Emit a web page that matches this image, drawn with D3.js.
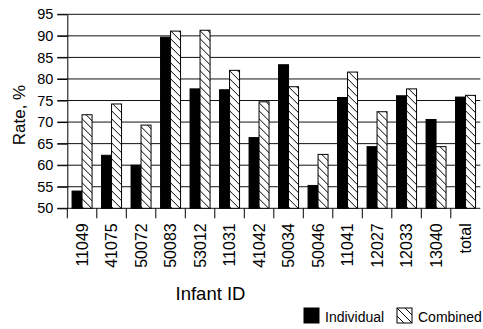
<!DOCTYPE html>
<html>
<head>
<meta charset="utf-8">
<script src="https://cdn.jsdelivr.net/npm/d3@7"></script>
<style>
  html, body { margin: 0; padding: 0; background: #fff; }
  svg { display: block; font-family: "Liberation Sans", Arial, Helvetica, sans-serif; }
</style>
</head>
<body>
<svg id="chart" width="483" height="329"></svg>
<script>
// Recognition rate per infant, individual vs combined model
const categories = ["11049", "41075", "50072", "50083", "53012", "11031", "41042",
                    "50034", "50046", "11041", "12027", "12033", "13040", "total"];
const individual = [54.0, 62.3, 60.0, 89.7, 77.7, 77.5, 66.4, 83.3, 55.3, 75.7, 64.3, 76.1, 70.6, 75.8];
const combined   = [71.7, 74.2, 69.3, 91.1, 91.3, 82.0, 74.7, 78.2, 62.5, 81.6, 72.4, 77.7, 64.3, 76.2];
const seriesNames = ["Individual", "Combined"];
const yTicks = [50, 55, 60, 65, 70, 75, 80, 85, 90, 95];

const svg = d3.select("#chart");
const plotLeft = 67.3, plotRight = 480.3, plotTop = 14.3, plotBottom = 208.3;

// hatch pattern for the combined series
const defs = svg.append("defs");
const pat = defs.append("pattern")
  .attr("id", "hatch")
  .attr("patternUnits", "userSpaceOnUse")
  .attr("width", 8).attr("height", 8);
pat.append("rect").attr("width", 8).attr("height", 8).attr("fill", "#fff");
pat.append("path")
  .attr("d", "M0,0 L8,8 M-2,6 L2,10 M6,-2 L10,2")
  .attr("stroke", "#000").attr("stroke-width", 1);

const x0 = d3.scaleBand().domain(categories).range([plotLeft, plotRight]).padding(0);
const x1 = d3.scaleBand().domain(seriesNames).range([0, x0.bandwidth()])
  .paddingInner(0).paddingOuter(0.475);
const y = d3.scaleLinear().domain([50, 95]).range([plotBottom, plotTop]);

// horizontal gridlines
svg.append("g").selectAll("line").data(yTicks).join("line")
  .attr("x1", plotLeft - 10).attr("x2", plotRight)
  .attr("y1", d => y(d)).attr("y2", d => y(d))
  .attr("stroke", "#111").attr("stroke-width", 1);

// bars
const rows = categories.map((c, i) => ({ c, vals: [individual[i], combined[i]] }));
const groups = svg.append("g").selectAll("g").data(rows).join("g")
  .attr("transform", d => `translate(${x0(d.c)},0)`);
groups.selectAll("rect")
  .data(d => d.vals.map((v, k) => ({ s: seriesNames[k], v })))
  .join("rect")
  .attr("x", d => x1(d.s))
  .attr("width", x1.bandwidth())
  .attr("y", d => y(d.v))
  .attr("height", d => y(50) - y(d.v))
  .attr("fill", d => d.s === "Individual" ? "#000" : "url(#hatch)")
  .attr("stroke", "#000").attr("stroke-width", 1);

// y axis
const yAxis = svg.append("g")
  .attr("transform", `translate(${plotLeft},0)`)
  .call(d3.axisLeft(y).tickValues(yTicks).tickSize(10).tickPadding(4).tickSizeOuter(0));
yAxis.select(".domain").attr("stroke", "#000");
yAxis.selectAll("text").attr("font-size", "14.5px").attr("fill", "#000")
  .attr("font-family", "Liberation Sans, Arial, sans-serif");

// x axis: labels at category centres, ticks at category boundaries
const xAxis = svg.append("g")
  .attr("transform", `translate(0,${plotBottom})`)
  .call(d3.axisBottom(x0).tickSize(0).tickPadding(0));
xAxis.select(".domain").remove();
xAxis.selectAll("text")
  .attr("font-size", "16px").attr("fill", "#000")
  .attr("font-family", "Liberation Sans, Arial, sans-serif")
  .attr("text-anchor", "end")
  .attr("transform", "rotate(-90)")
  .attr("x", -15).attr("y", 0).attr("dy", "0.35em");
svg.append("g").selectAll("line").data(categories).join("line")
  .attr("x1", d => x0(d)).attr("x2", d => x0(d))
  .attr("y1", plotBottom).attr("y2", plotBottom + 10)
  .attr("stroke", "#000").attr("stroke-width", 1);

// axis titles
svg.append("text")
  .attr("x", 210.5).attr("y", 300)
  .attr("text-anchor", "middle")
  .attr("font-size", "18.5px")
  .text("Infant ID");
svg.append("text")
  .attr("transform", "translate(25,115) rotate(-90)")
  .attr("text-anchor", "middle")
  .attr("font-size", "17px")
  .text("Rate, %");

// legend
const legendX = [304, 397];
const legend = svg.append("g").selectAll("g").data(seriesNames).join("g")
  .attr("transform", (d, i) => `translate(${legendX[i]},308)`);
legend.append("rect")
  .attr("width", 15).attr("height", 15)
  .attr("fill", d => d === "Individual" ? "#000" : "url(#hatch)")
  .attr("stroke", "#000").attr("stroke-width", 1);
legend.append("text")
  .attr("x", 21).attr("y", 13.5)
  .attr("font-size", "14px")
  .text(d => d);
</script>
</body>
</html>
